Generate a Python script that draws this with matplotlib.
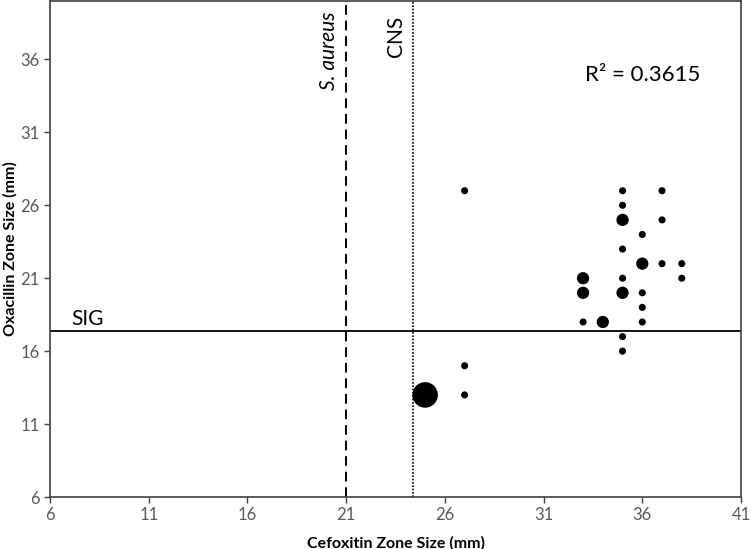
import matplotlib
matplotlib.use("Agg")
from matplotlib import pyplot as plt
import numpy as np

plt.rcParams['font.family'] = ['Lato', 'DejaVu Sans']

# zone sizes (mm) and number of isolates at each point
cefoxitin = [27, 35, 37, 35, 35, 37, 36, 35, 36, 37, 38, 33, 35, 38,
             33, 35, 36, 36, 33, 34, 36, 35, 35, 27, 25, 27]
oxacillin = [27, 27, 27, 26, 25, 25, 24, 23, 22, 22, 22, 21, 21, 21,
             20, 20, 20, 19, 18, 18, 18, 17, 16, 15, 13, 13]
counts = [1, 1, 1, 1, 3, 1, 1, 1, 3, 1, 1, 3, 1, 1,
          3, 3, 1, 1, 1, 3, 1, 1, 1, 1, 13, 1]

ticks = [6, 11, 16, 21, 26, 31, 36, 41]
yticks = [6, 11, 16, 21, 26, 31, 36]
s_aureus_bp = 21
cns_bp = 24.4
sig_bp = 17.4

fig = plt.figure(figsize=(7.5, 5.49), dpi=100)
ax = fig.add_axes([0.0667, 0.0947, 0.9213, 0.9033])

ax.scatter(cefoxitin, oxacillin, s=np.array(counts) * 26, c='black',
           edgecolors='none', zorder=3)

ax.axvline(s_aureus_bp, color='black', lw=1.4, ls=(0, (5, 3)))
ax.axvline(cns_bp, color='black', lw=1.2, ls=(0, (1, 1)))
ax.axhline(sig_bp, color='black', lw=1.3)

ax.text(s_aureus_bp - 0.35, 39.3, 'S. aureus', rotation=90, style='italic',
        ha='right', va='top', fontsize=15)
ax.text(cns_bp - 0.35, 39.0, 'CNS', rotation=90, ha='right', va='top', fontsize=15)
ax.text(7.1, sig_bp + 0.15, 'SIG', ha='left', va='bottom', fontsize=15)
ax.text(33.1, 34.9, 'R² = 0.3615', ha='left', va='center', fontsize=16)

ax.set_xlim(6, 41)
ax.set_ylim(6, 40)
ax.set_xticks(ticks)
ax.set_yticks(yticks)
ax.tick_params(colors='#404040', labelcolor='#595959', labelsize=12,
               length=4, width=1)
for sp in ax.spines.values():
    sp.set_color('#404040')
    sp.set_linewidth(1.2)

ax.set_xlabel('Cefoxitin Zone Size (mm)', fontsize=11.5, fontweight='bold', labelpad=9)
ax.set_ylabel('Oxacillin Zone Size (mm)', fontsize=11.5, fontweight='bold', labelpad=2)

fig.savefig('out.png', dpi=100)
